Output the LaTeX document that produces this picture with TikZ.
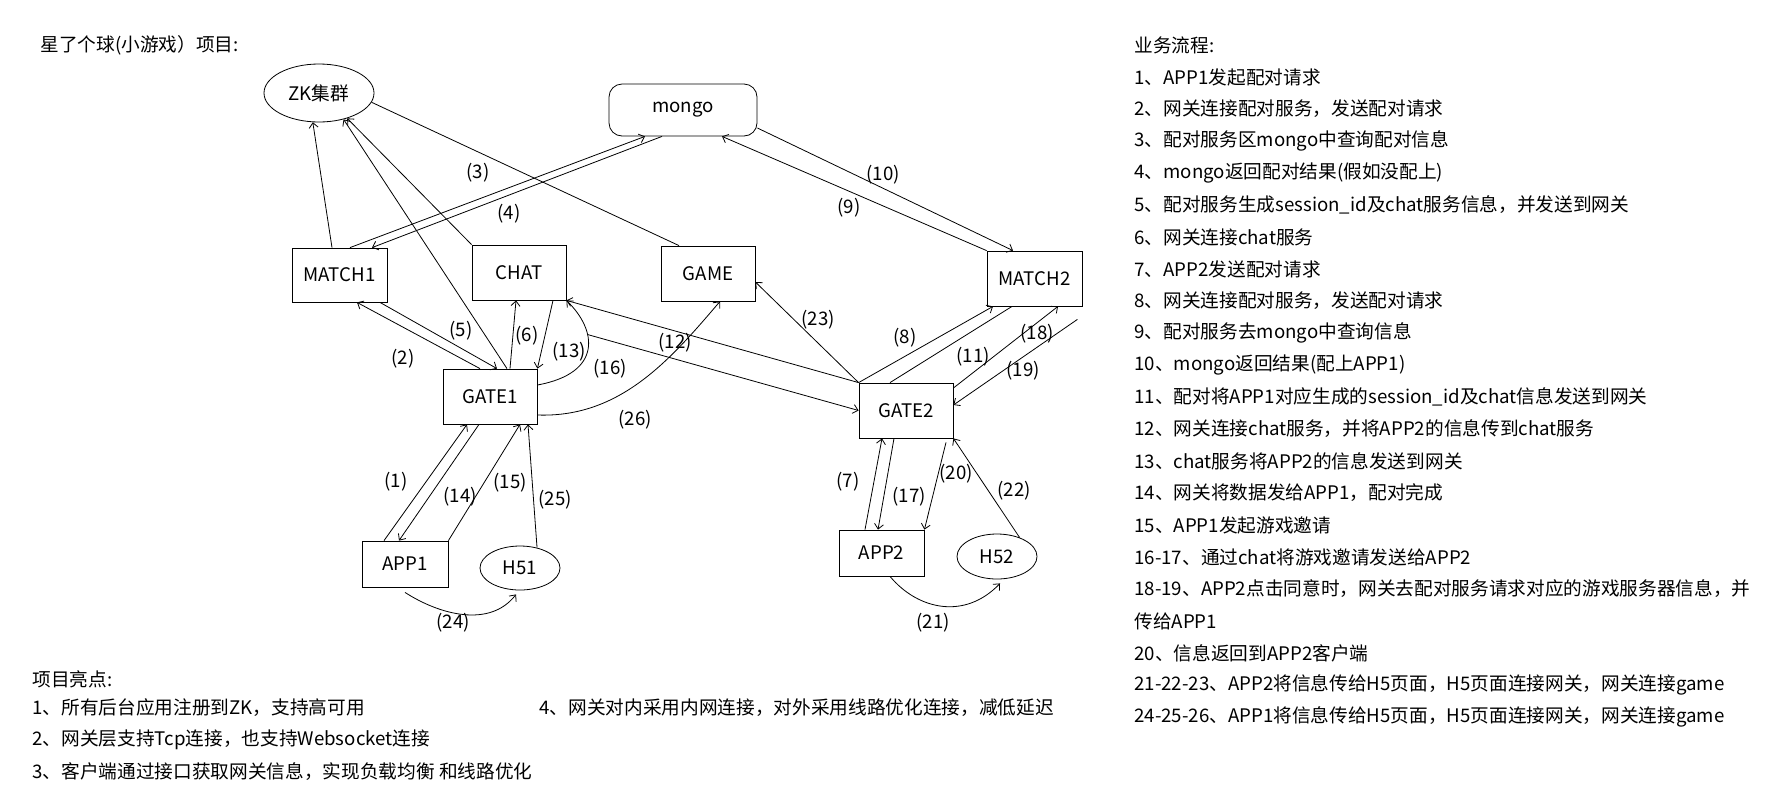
\documentclass[tikz,border=0pt]{standalone}
\usepackage{fontspec}
\setmainfont{Noto Sans CJK SC}
\usetikzlibrary{arrows.meta, shapes.geometric, calc}

\begin{document}
\begin{tikzpicture}[x=1pt, y=-1pt, >={Straight Barb[length=5pt,width=9pt]},
    line width=0.8pt, font=\fontsize{18.67}{22}\selectfont,
    box/.style={draw, rectangle, inner sep=0pt},
    oval/.style={draw, ellipse, inner sep=0pt},
    num/.style={inner sep=0pt},
    txt/.style={anchor=west, inner sep=0pt}]
  \useasboundingbox (0,0) rectangle (1769,796);

  \node[txt] (title) at (40,45) {星了个球(小游戏）项目:};

  % services
  \node[oval, minimum width=110pt, minimum height=58pt] (zk) at (319,93) {ZK集群};
  \node[box, rounded corners=13pt, minimum width=148pt, minimum height=52pt] (mongo) at (683,110) {mongo};
  \node[box, minimum width=95pt, minimum height=54pt] (match1) at (339.5,275) {MATCH1};
  \node[box, minimum width=94pt, minimum height=55pt] (chat) at (519,272.5) {CHAT};
  \node[box, minimum width=94pt, minimum height=55pt] (game) at (708,273.5) {GAME};
  \node[box, minimum width=95pt, minimum height=55pt] (match2) at (1034.5,278.5) {MATCH2};
  \node[box, minimum width=94pt, minimum height=55pt] (gate1) at (490,396.5) {GATE1};
  \node[box, minimum width=94pt, minimum height=55pt] (gate2) at (906,410.5) {GATE2};

  % clients
  \node[box, minimum width=86pt, minimum height=46pt] (app1) at (405,564) {APP1};
  \node[oval, minimum width=80pt, minimum height=44pt] (h51) at (520,568) {H51};
  \node[box, minimum width=85pt, minimum height=46pt] (app2) at (881.5,553) {APP2};
  \node[oval, minimum width=80pt, minimum height=45pt] (h52) at (997,556.5) {H52};

  % register to zk
  \draw[->] ([xshift=-7.5pt]match1.north) -- (zk.-102);
  \draw[->] ([xshift=17pt]gate1.north) -- (zk.-47);
  \draw[->] (chat.north west) -- (zk.-42);
  \draw ([xshift=-29pt]game.north) -- (zk.-10);

  % match <-> mongo
  \draw[->] ([xshift=10.5pt]match1.north) -- ([xshift=-38pt]mongo.south);
  \draw[->] ([xshift=-21pt]mongo.south) -- ([xshift=32.5pt]match1.north);
  \draw[->] ([yshift=-18pt]mongo.east) -- ([xshift=-21.5pt]match2.north);
  \draw[->] (match2.north west) -- ([xshift=39pt]mongo.south);

  % gate1 side
  \draw[->] ([xshift=40.5pt]match1.south) -- ([xshift=7pt]gate1.north);
  \draw[->] ([xshift=-10pt]gate1.north) -- ([xshift=17.5pt]match1.south);
  \draw[->] ([xshift=20pt]gate1.north) -- ([xshift=-3pt]chat.south);
  \draw[->] ([xshift=34pt]chat.south) -- (gate1.north east);
  \draw[->] ([yshift=11.5pt]gate1.east) .. controls (603,373) and (597,330) .. (chat.south east)
    coordinate[pos=0.65] (c16);
  \draw[->] (c16) -- (gate2.west);
  \draw[->] ([yshift=-18.5pt]gate1.east) .. controls (620,418) and (670,360) .. ([xshift=12pt]game.south);

  % gate2 side
  \draw[->] (gate2.north west) -- (chat.south east);
  \draw[->] (gate2.north west) -- ([yshift=-8.5pt]game.east);
  \draw[->] (gate2.north west) -- ([xshift=-41.5pt]match2.south);
  \draw ([xshift=-22.5pt]match2.south) -- ([xshift=-16pt]gate2.north);
  \draw[->] ([yshift=22.5pt]gate2.east) -- ([xshift=23.5pt]match2.south);
  \coordinate (m2) at ([xshift=-5pt,yshift=-13pt]match2.south east);
  \draw[->] (m2) -- ([yshift=5.5pt]gate2.east);

  % app1 <-> gate1
  \draw[->] ([xshift=-21pt]app1.north) -- ([xshift=-23pt]gate1.south);
  \draw[->] ([xshift=-11pt]gate1.south) -- ([xshift=-6pt]app1.north);
  \draw[->] (app1.north east) -- ([xshift=30pt]gate1.south);
  \draw[->] (h51.50) -- ([xshift=38pt]gate1.south);
  \draw[->] ([yshift=-5pt]app1.south) .. controls (440,615) and (490,628) .. ([xshift=-4pt,yshift=-4pt]h51.south);

  % app2 <-> gate2
  \draw[->] ([xshift=-16.5pt]app2.north) -- ([xshift=-24pt]gate2.south);
  \draw[->] ([xshift=-12pt]gate2.south) -- ([xshift=-3.5pt]app2.north);
  \draw[->] ([xshift=40pt,yshift=-4pt]gate2.south) -- (app2.north east);
  \draw[->] (h52.40) -- (gate2.south east);
  \draw[->] ([xshift=8.5pt]app2.south) .. controls (918,610) and (965,620) .. ([xshift=3pt,yshift=-4pt]h52.south);

  % step numbers
  \foreach \t/\x/\y in {1/396/482, 2/403/359, 3/478/173, 4/509/214, 5/461/331, 6/527/336,
      7/848/482, 8/905/338, 9/849/208, 10/883/175, 11/973/357, 12/675/343, 13/569/352,
      14/460/497, 15/510/483, 16/610/369, 17/909/497, 18/1037/334, 19/1023/371,
      20/956/474, 21/933/623, 22/1014/491, 23/818/320, 24/453/623, 25/555/500, 26/635/420}
    \node[num] (n\t) at (\x,\y) {(\t)};

  % flow
  \node[txt] (flow) at (1134,45) {业务流程:};
  \foreach \t [count=\i] in {1、APP1发起配对请求,
      2、网关连接配对服务，发送配对请求,
      3、配对服务区mongo中查询配对信息,
      4、mongo返回配对结果(假如没配上),
      5、配对服务生成session\_id及chat服务信息，并发送到网关,
      6、网关连接chat服务,
      7、APP2发送配对请求,
      8、网关连接配对服务，发送配对请求,
      9、配对服务去mongo中查询信息,
      10、mongo返回结果(配上APP1),
      11、配对将APP1对应生成的session\_id及chat信息发送到网关,
      12、网关连接chat服务，并将APP2的信息传到chat服务,
      13、chat服务将APP2的信息发送到网关,
      14、网关将数据发给APP1，配对完成,
      15、APP1发起游戏邀请,
      16-17、通过chat将游戏邀请发送给APP2,
      18-19、APP2点击同意时，网关去配对服务请求对应的游戏服务器信息，并,
      传给APP1,
      20、信息返回到APP2客户端,
      21-22-23、APP2将信息传给H5页面，H5页面连接网关，网关连接game,
      24-25-26、APP1将信息传给H5页面，H5页面连接网关，网关连接game}
    \node[txt] (flow\i) at (1134,{77+32*(\i-1)}) {\t};

  % highlights
  \node[txt] (hl) at (32,679) {项目亮点:};
  \node[txt] (hl1) at (32,708) {1、所有后台应用注册到ZK，支持高可用};
  \node[txt] (hl2) at (32,740) {2、网关层支持Tcp连接，也支持Websocket连接};
  \node[txt] (hl3) at (32,772) {3、客户端通过接口获取网关信息，实现负载均衡 和线路优化};
  \node[txt] (hl4) at (539,708) {4、网关对内采用内网连接，对外采用线路优化连接，减低延迟};
\end{tikzpicture}
\end{document}
